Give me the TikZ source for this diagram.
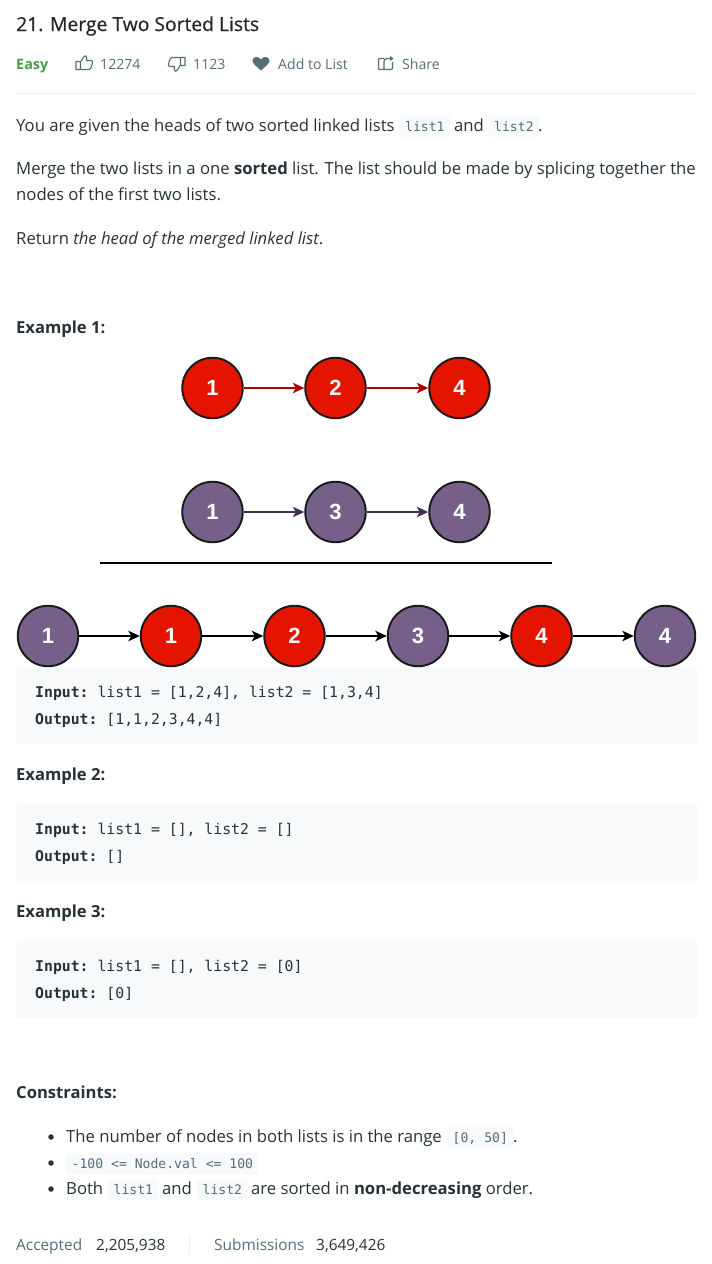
\documentclass[tikz,border=0pt]{standalone}
\usepackage{fontspec}
\usetikzlibrary{arrows.meta}
\setmainfont{Open Sans}
\setsansfont{Liberation Sans}
\setmonofont{DejaVu Sans Mono}
\newfontfamily\titlefont[FakeBold=0.6]{Open Sans}
\definecolor{redfill}{HTML}{E51400}
\definecolor{redline}{HTML}{B20000}
\definecolor{purplefill}{HTML}{76608A}
\definecolor{purpleline}{HTML}{432D57}
\definecolor{bodytext}{HTML}{263238}
\definecolor{greytext}{HTML}{546E7A}
\definecolor{easygreen}{HTML}{43A047}
\definecolor{codebg}{HTML}{F7F9FA}
\definecolor{ruleline}{HTML}{ECEFF1}
\tikzset{
  listnode/.style={circle, draw=black!90, line width=1.9pt, minimum size=60.5pt, inner sep=0pt,
    text=white, font=\fontsize{22}{22}\selectfont\bfseries\sffamily},
  rednode/.style={listnode, fill=redfill},
  purplenode/.style={listnode, fill=purplefill},
  link/.style={line width=1.6pt, -{Stealth[length=11.5pt, width=10.5pt, inset=3pt]}},
  txt/.style={anchor=base west, inner sep=0pt, text=bodytext, font=\fontsize{16.67}{18}\selectfont},
  meta/.style={txt, text=greytext, font=\fontsize{14.1}{16}\selectfont},
  footer/.style={txt, text=greytext, font=\fontsize{15.4}{16}\selectfont},
  heading/.style={txt, font=\fontsize{16.6}{18}\selectfont\bfseries},
  code/.style={anchor=base west, inner sep=0pt, text=bodytext, font=\fontsize{14.8}{18}\selectfont\ttfamily},
  inlinecode/.style={anchor=base west, fill=codebg, rounded corners=3pt, inner xsep=5.5pt, inner ysep=0pt,
    text height=15pt, text depth=6pt, text=greytext, font=\fontsize{13.1}{15}\selectfont\ttfamily},
  codeblock/.style={anchor=north west, fill=codebg, rounded corners=3pt, inner sep=0pt,
    minimum width=681pt, minimum height=77pt},
  bullet/.style={circle, fill=bodytext, inner sep=0pt, minimum size=5.5pt},
  thumbicon/.pic={
    \draw[greytext, line width=1.1pt, line join=round]
      (0,6.5) rectangle (4.5,14.5)
      (4.5,7) -- (8,1.5) .. controls (8.5,0) and (11,0.5) .. (10.8,3)
      -- (10.3,5.5) -- (15,5.5) .. controls (16.5,5.5) and (17,7) .. (16.5,8)
      -- (14.8,13.2) .. controls (14.4,14.5) and (13.8,14.5) .. (13,14.5) -- (4.5,14.5);
  },
}
\begin{document}
\begin{tikzpicture}[x=1pt, y=-1pt]
  \useasboundingbox (0,0) rectangle (712,1264);
  \fill[white] (0,0) rectangle (712,1264);
  % header
  \path node (title) at (16,31) [txt, text=black!85, font=\fontsize{19.3}{22}\titlefont] {21. Merge Two Sorted Lists}
        node (easy)  at (16,69) [txt, text=easygreen, font=\fontsize{14.4}{16}\bfseries] {Easy}
        node (likes)    at (100,69) [meta] {12274}
        node (dislikes) at (193,69) [meta] {1123}
        node (addlist)  at (278,69) [meta] {Add to List}
        node (share)    at (402,69) [meta] {Share};
  \path (76,55) pic {thumbicon}
        (185,72) pic [yscale=-1, xscale=-1] {thumbicon};
  \fill[greytext] (261,70.5) .. controls (256,66) and (252.5,63.5) .. (252.5,60.5)
      .. controls (252.5,56.5) and (259,55.5) .. (261,59.5)
      .. controls (263,55.5) and (269.5,56.5) .. (269.5,60.5)
      .. controls (269.5,63.5) and (266,66) .. (261,70.5);
  \draw[greytext, line width=1.2pt, rounded corners=1pt]
      (384,58.5) -- (378.5,58.5) -- (378.5,69.5) -- (392.5,69.5) -- (392.5,62)
      (384,69) -- (384,60.5) -- (386,58.5) -- (391,58.5);
  \fill[greytext] (390,56) -- (393.5,58.5) -- (390,61) -- cycle;
  \coordinate (ruleA) at (16,93.5);
  \coordinate (ruleB) at (696,93.5);
  \draw[ruleline] (ruleA) -- (ruleB);
  % description
  \path node (d1)  at (16,131)  [txt] {You are given the heads of two sorted linked lists}
        node (d1a) at (399.5,131) [inlinecode] {list1}
        node (d1b) at (454,131) [txt] {and}
        node (d1c) at (488.5,131) [inlinecode] {list2}
        node (d1d) at (538,131) [txt] {.}
        node (d2)  at (16,174)  [txt] {Merge the two lists in a one \textbf{sorted} list. The list should be made by splicing together the}
        node (d3)  at (16,200)  [txt] {nodes of the first two lists.}
        node (d4)  at (16,244)  [txt] {Return \textit{the head of the merged linked list}.}
        node (ex1) at (16,333)  [heading] {Example 1:};
  % code blocks under the lists
  \path node (box1) at (16,667) [codeblock] {}
        node (box2) at (16,804) [codeblock] {}
        node (box3) at (16,941) [codeblock] {};
  % two input lists
  \path node (R1) at (212.5,388) [rednode] {1}
        node (R2) at (335.5,388) [rednode] {2}
        node (R4) at (459.5,388) [rednode] {4}
        %
        node (P1) at (212.5,512) [purplenode] {1}
        node (P3) at (335.5,512) [purplenode] {3}
        node (P4) at (459.5,512) [purplenode] {4}
        %
        coordinate (sumA) at (100,563)
        coordinate (sumB) at (552,563);
  \draw[redline, link]
        (R1) edge (R2)
        (R2) edge (R4);
  \draw[purpleline, link]
        (P1) edge (P3)
        (P3) edge (P4);
  \draw[black, line width=2pt] (sumA) -- (sumB);
  % merged list
  \path node (M1) at (48,636)    [purplenode] {1}
        node (M2) at (171,636)   [rednode] {1}
        node (M3) at (294.5,636) [rednode] {2}
        node (M4) at (418,636)   [purplenode] {3}
        node (M5) at (541.5,636) [rednode] {4}
        node (M6) at (665,636)   [purplenode] {4};
  \draw[black, link]
        (M1) edge (M2)
        (M2) edge (M3)
        (M3) edge (M4)
        (M4) edge (M5)
        (M5) edge (M6);
  % examples
  \path node (in1)  at (35,697) [code] {\textbf{Input:} list1 = [1,2,4], list2 = [1,3,4]}
        node (out1) at (35,724) [code] {\textbf{Output:} [1,1,2,3,4,4]}
        node (ex2)  at (16,780) [heading] {Example 2:}
        node (in2)  at (35,834) [code] {\textbf{Input:} list1 = [], list2 = []}
        node (out2) at (35,861) [code] {\textbf{Output:} []}
        node (ex3)  at (16,917) [heading] {Example 3:}
        node (in3)  at (35,971) [code] {\textbf{Input:} list1 = [], list2 = [0]}
        node (out3) at (35,998) [code] {\textbf{Output:} [0]};
  % constraints
  \path node (con) at (16,1098) [heading] {Constraints:}
        node (b1)  at (51,1137) [bullet] {}
        node (b2)  at (51,1163) [bullet] {}
        node (b3)  at (51,1189) [bullet] {}
        node (c1)  at (66,1142) [txt] {The number of nodes in both lists is in the range}
        node (c1a) at (447,1142) [inlinecode] {[0, 50]}
        node (c1b) at (513,1142) [txt] {.}
        node (c2)  at (66,1168) [inlinecode] {-100 <= Node.val <= 100}
        node (c3)  at (66,1194) [txt] {Both}
        node (c3a) at (108,1194) [inlinecode] {list1}
        node (c3b) at (162,1194) [txt] {and}
        node (c3c) at (197,1194) [inlinecode] {list2}
        node (c3d) at (251,1194) [txt] {are sorted in \textbf{non-decreasing} order.};
  % footer
  \path node (acc)  at (16,1250)  [footer] {Accepted}
        node (accn) at (96,1250)  [footer, text=bodytext] {2,205,938}
        node (sub)  at (214,1250) [footer] {Submissions}
        node (subn) at (316,1250) [footer, text=bodytext] {3,649,426}
        coordinate (sepA) at (189,1236)
        coordinate (sepB) at (189,1254);
  \draw[ruleline] (sepA) -- (sepB);
\end{tikzpicture}
\end{document}
